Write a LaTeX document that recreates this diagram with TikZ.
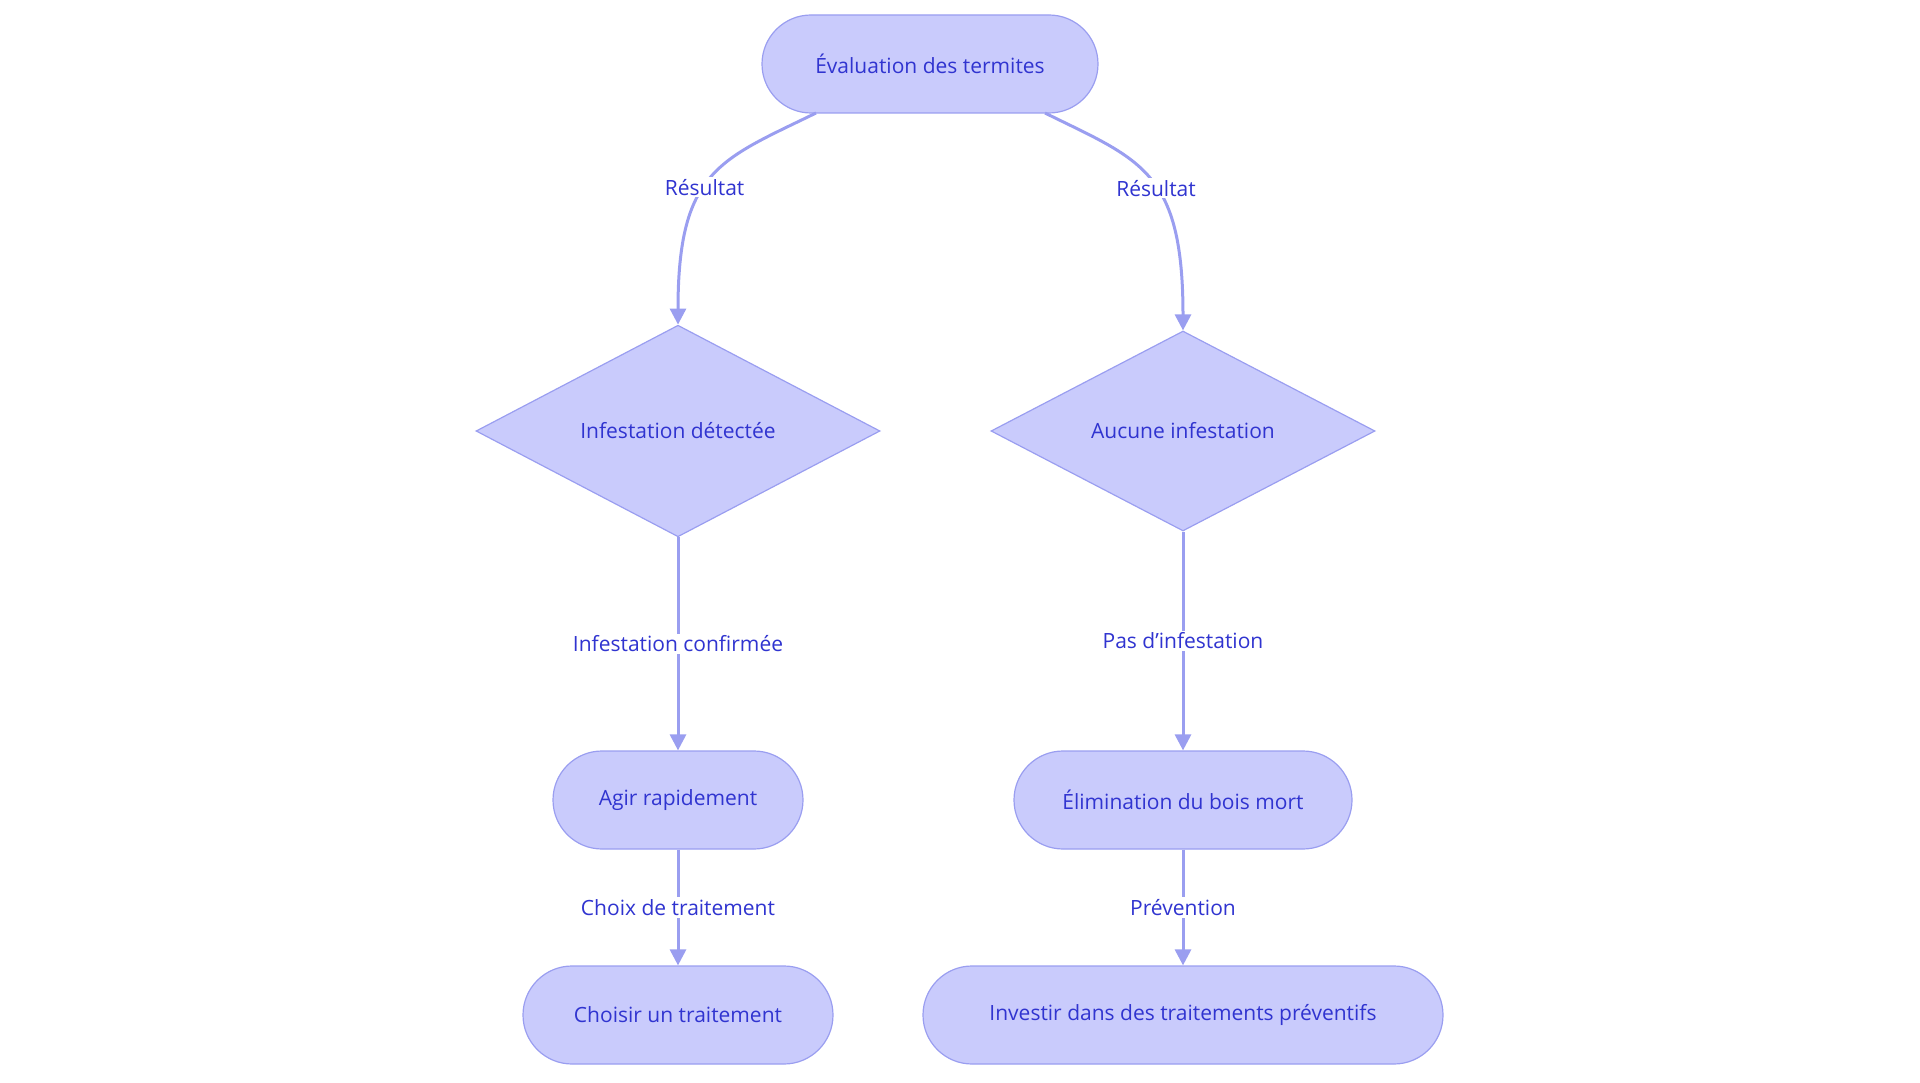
\documentclass[tikz,border=0pt]{standalone}
\usepackage{fontspec}
\setmainfont{Open Sans}
\usetikzlibrary{shapes.geometric,arrows.meta}
\definecolor{nfill}{HTML}{C9CBFC}
\definecolor{nline}{HTML}{9A9EF0}
\definecolor{ntext}{HTML}{3034D0}
\begin{document}
\begin{tikzpicture}[x=1pt,y=-1pt,
  term/.style={rounded rectangle,draw=nline,fill=nfill,line width=1.2pt,text=ntext,font=\fontsize{21}{24}\selectfont,minimum height=98pt,inner sep=0pt},
  dia/.style={diamond,draw=nline,fill=nfill,line width=1.2pt,text=ntext,font=\fontsize{21}{24}\selectfont,inner sep=0pt,aspect=1},
  edge/.style={draw=nline,line width=3pt,-{Triangle[length=16pt,width=16pt]}},
  lab/.style={fill=white,text=ntext,font=\fontsize{21}{24}\selectfont,inner sep=2pt}]
\useasboundingbox (0,0) rectangle (1920,1083);
\usetikzlibrary{shapes.misc}
\node[term,minimum width=336pt] (eval) at (930,64) {Évaluation des termites};
\node[dia,minimum width=404pt] (inf) at (678,431) {Infestation détectée};
\node[dia,minimum width=384pt] (auc) at (1183,431) {Aucune infestation};
\node[term,minimum width=250pt] (agir) at (678,800) {Agir rapidement};
\node[term,minimum width=338pt] (elim) at (1183,800) {Élimination du bois mort};
\node[term,minimum width=310pt] (chois) at (678,1015) {Choisir un traitement};
\node[term,minimum width=520pt] (inv) at (1183,1015) {Investir dans des traitements préventifs};
\coordinate (l1) at (816,113);
\coordinate (r1) at (1045,113);
\draw[edge] (l1) .. controls (720,160) and (678,170) .. (inf.north) node[lab,pos=0.55] {Résultat};
\draw[edge] (r1) .. controls (1140,160) and (1183,170) .. (auc.north) node[lab,pos=0.55] {Résultat};
\draw[edge] (inf.south) -- (agir.north) node[lab,midway] {Infestation confirmée};
\draw[edge] (auc.south) -- (elim.north) node[lab,midway] {Pas d'infestation};
\draw[edge] (agir.south) -- (chois.north) node[lab,midway] {Choix de traitement};
\draw[edge] (elim.south) -- (inv.north) node[lab,midway] {Prévention};
\end{tikzpicture}
\end{document}
